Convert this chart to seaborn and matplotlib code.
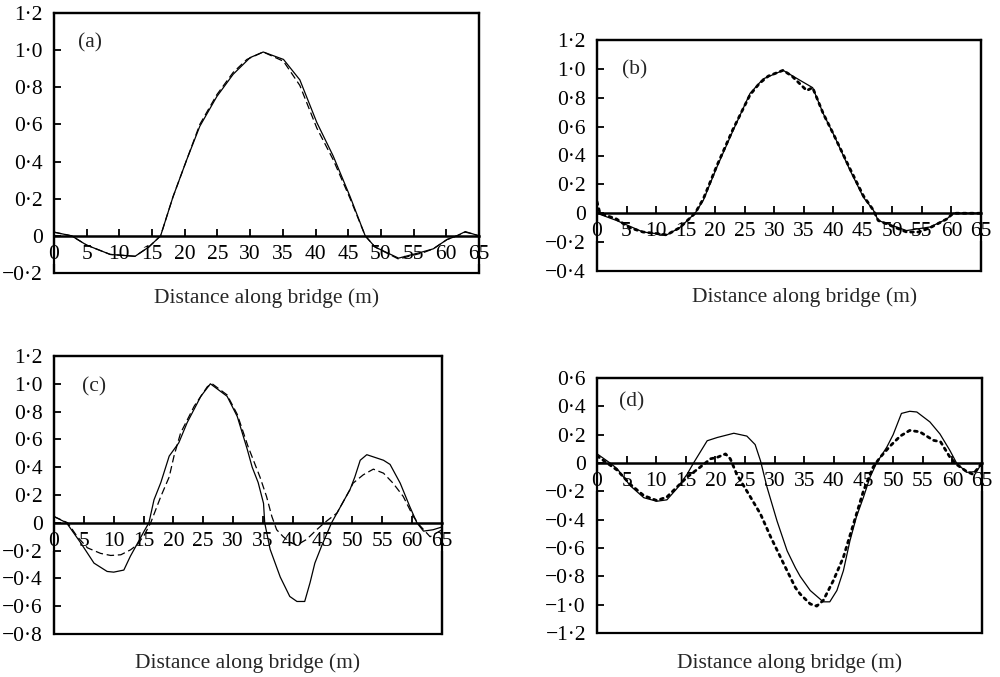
import matplotlib
matplotlib.use("Agg")
import matplotlib.pyplot as plt
from matplotlib.ticker import FuncFormatter
import seaborn as sns

# ---- Mode shapes along the bridge (distance in m, normalised amplitude) ----
# (a)
a_x_solid = [0, 2.7, 5, 8.6, 12.4, 14.5, 16.3, 18.2, 20.3, 22.3, 24.9, 27.4, 30, 32, 35.1,
             37.6, 40.2, 42.7, 45.3, 47.6, 49.1, 52.7, 56.5, 58, 60.1, 61.6, 62.9, 64.1, 65]
a_y_solid = [0.02, 0, -0.05, -0.10, -0.11, -0.06, 0, 0.21, 0.41, 0.59, 0.75, 0.87, 0.96, 0.99, 0.95,
             0.84, 0.61, 0.43, 0.21, 0, -0.06, -0.12, -0.085, -0.07, -0.02, 0, 0.023, 0.01, 0]
a_x_dash = [0, 2.7, 5, 8.6, 12.4, 14.5, 16.3, 18.2, 20.3, 22.3, 24.9, 27.4, 29.5, 32, 35.1,
            37.6, 40.2, 42.7, 45.3, 47.6, 49.1, 52.7, 56.5, 58, 60.1, 61.6, 62.9, 64.1, 65]
a_y_dash = [0.02, 0, -0.05, -0.10, -0.11, -0.06, 0, 0.21, 0.41, 0.60, 0.76, 0.88, 0.95, 0.99, 0.94,
            0.81, 0.58, 0.41, 0.20, 0, -0.06, -0.125, -0.09, -0.07, -0.02, 0, 0.02, 0.01, 0]

# (b)
b_x_solid = [0, 3.3, 7.8, 11.8, 14, 16.6, 18, 20.3, 23, 25.9, 28.1, 31.5, 34.4, 36.5, 38.3, 40,
             42.8, 45.1, 46.8, 47.6, 52.4, 56.4, 59.2, 60.3, 62.6, 65]
b_y_solid = [0.0, -0.05, -0.13, -0.15, -0.10, 0, 0.09, 0.32, 0.57, 0.83, 0.93, 0.99, 0.92, 0.87,
             0.69, 0.55, 0.30, 0.11, 0.02, -0.05, -0.12, -0.095, -0.04, 0, 0.0, 0.0]
b_x_dot = [0, 0.5, 3.3, 5.5, 7.8, 10, 11.8, 14, 16.6, 18, 20.3, 23, 25.9, 27.5, 29, 31.5, 33, 35.5,
           36.5, 38.3, 40, 42.8, 45.1, 46.8, 47.6, 52.4, 54.5, 56.4, 59.2, 60.3, 62.6, 65]
b_y_dot = [0.08, 0.0, -0.04, -0.10, -0.13, -0.14, -0.15, -0.10, 0, 0.10, 0.33, 0.58, 0.82, 0.90,
           0.95, 0.99, 0.95, 0.85, 0.87, 0.69, 0.55, 0.31, 0.12, 0.02, -0.05, -0.13, -0.13, -0.10,
           -0.04, 0, 0.0, 0.0]

# (c)
c_x_solid = [0, 2.1, 4.5, 6.7, 8.9, 10, 11.7, 12.8, 13.7, 15.1, 15.9, 16.75, 17.9, 19.3, 20.9,
             22.3, 24.6, 26.2, 29, 30.7, 32.4, 33.2, 34.2, 35.1, 35.3, 36.2, 37.9, 39.5, 40.7, 42,
             42.9, 43.7, 44.8, 46.5, 49.6, 50.4, 51.3, 52.4, 55.2, 56.3, 58, 59.6, 60.8, 61.9,
             63.5, 65]
c_y_solid = [0.045, 0, -0.146, -0.29, -0.35, -0.355, -0.34, -0.24, -0.17, -0.06, 0, 0.165, 0.29,
             0.48, 0.575, 0.72, 0.91, 1.0, 0.91, 0.765, 0.525, 0.40, 0.29, 0.14, 0, -0.19, -0.39,
             -0.53, -0.566, -0.566, -0.43, -0.29, -0.17, 0, 0.24, 0.33, 0.45, 0.49, 0.45, 0.42,
             0.285, 0.117, 0, -0.06, -0.05, -0.03]
c_x_dash = [0, 2.3, 3.9, 5.6, 7.8, 9.5, 11.2, 12.8, 13.9, 15.1, 16.2, 17.9, 19.3, 20.1, 21.2,
            23.5, 25.7, 26.5, 29, 30.7, 32.5, 34.5, 35.6, 36.5, 37.3, 38.4, 39.5, 40.7, 42.3, 44,
            45.3, 47.4, 49.6, 50.1, 51.8, 53.5, 55.2, 56.8, 58.5, 60.2, 61.3, 63, 65]
c_y_dash = [0.045, 0, -0.1, -0.18, -0.22, -0.235, -0.23, -0.195, -0.16, -0.09, 0, 0.19, 0.33,
            0.48, 0.645, 0.84, 0.98, 1.0, 0.92, 0.78, 0.55, 0.33, 0.19, 0.045, -0.05, -0.1, -0.14,
            -0.16, -0.12, -0.05, 0, 0.07, 0.24, 0.285, 0.345, 0.386, 0.357, 0.285, 0.19, 0.045,
            -0.02, -0.1, -0.05]

# (d)
d_x_solid = [0, 2.2, 3.4, 5.6, 7.9, 10.1, 11.8, 13.5, 15.2, 16.3, 18.6, 20.3, 23.1, 25.3, 26.7,
             27.6, 28.7, 30.4, 32.1, 33.5, 34.3, 36, 38.2, 39.3, 40.5, 41.6, 42.7, 43.8, 45, 46.1,
             47.2, 48.9, 50, 51.4, 52.8, 54, 56.2, 57.9, 59.6, 60.7, 62.4, 64.1, 65]
d_y_solid = [0.065, 0, -0.04, -0.16, -0.245, -0.27, -0.26, -0.18, -0.08, 0, 0.157, 0.18, 0.21,
             0.19, 0.13, 0.016, -0.17, -0.41, -0.62, -0.74, -0.80, -0.90, -0.98, -0.98, -0.90,
             -0.76, -0.55, -0.38, -0.24, -0.10, 0, 0.11, 0.20, 0.35, 0.365, 0.36, 0.29, 0.205,
             0.087, 0, -0.066, -0.06, 0]
d_x_dot = [0, 3.4, 5.6, 7.9, 10.1, 11.8, 13.5, 15.2, 17.4, 19.2, 20.3, 21.7, 22.5, 23.6, 25.9,
           27.6, 29.3, 31.5, 33.5, 34.3, 36, 37.1, 38.2, 39.9, 41.6, 43.3, 45, 46.6, 47.8, 49.5,
           51.2, 52.8, 54.5, 56.8, 58, 59.6, 60.7, 62.4, 63.5, 65]
d_y_dot = [0.05, -0.05, -0.15, -0.23, -0.265, -0.24, -0.17, -0.10, -0.03, 0.03, 0.04, 0.064,
           0.03, -0.08, -0.24, -0.36, -0.52, -0.71, -0.88, -0.925, -0.995, -1.01, -0.97, -0.83,
           -0.665, -0.43, -0.195, -0.03, 0.04, 0.12, 0.19, 0.23, 0.22, 0.16, 0.15, 0.04, -0.01,
           -0.06, -0.08, 0]

x_ticks = [0, 5, 10, 15, 20, 25, 30, 35, 40, 45, 50, 55, 60, 65]
panel_tags = ["(a)", "(b)", "(c)", "(d)"]
y_ranges = [(-0.2, 1.2), (-0.4, 1.2), (-0.8, 1.2), (-1.2, 0.6)]
x_title = "Distance along bridge (m)"

sns.set_style("white")
plt.rcParams["font.family"] = ["Liberation Serif", "DejaVu Serif"]

FS = 15.5
W, H = 1000, 677
fig = plt.figure(figsize=(W / 100, H / 100), dpi=100)

# axes boxes in pixels: left, top, right, bottom
boxes = [(54, 13, 479, 273), (597, 40, 981, 271), (54, 356, 442, 634), (597, 378, 982, 633)]
title_y = [298, 297, 663, 663]
tag_pos = [(0.085, 0.885), (0.097, 0.87), (0.104, 0.89), (0.091, 0.907)]

series = [
    [(a_x_solid, a_y_solid, "-"), (a_x_dash, a_y_dash, (0, (6, 3)))],
    [(b_x_solid, b_y_solid, "-"), (b_x_dot, b_y_dot, "dot")],
    [(c_x_solid, c_y_solid, "-"), (c_x_dash, c_y_dash, (0, (6, 3)))],
    [(d_x_solid, d_y_solid, "-"), (d_x_dot, d_y_dot, "dot")],
]


def fmt(v, _pos=None):
    if abs(v) < 1e-9:
        return "0"
    return f"{v:.1f}".replace(".", "\u00b7").replace("-", "\u2212")


for i, (l, t, r, b) in enumerate(boxes):
    ax = fig.add_axes([l / W, 1 - b / H, (r - l) / W, (b - t) / H])
    for xs, ys, ls in series[i]:
        if ls == "dot":
            sns.lineplot(x=xs, y=ys, ax=ax, color="black", lw=2.0,
                         linestyle=(0, (1.0, 1.6)), dash_capstyle="round")
        else:
            sns.lineplot(x=xs, y=ys, ax=ax, color="black", lw=0.9, linestyle=ls)

    ymin, ymax = y_ranges[i]
    ax.set_xlim(0, 65)
    ax.set_ylim(ymin, ymax)

    # frame drawn by the axes patch; bottom spine becomes the zero line
    ax.patch.set_edgecolor("black")
    ax.patch.set_linewidth(1.6)
    for s in ["left", "top", "right"]:
        ax.spines[s].set_color("black")
        ax.spines[s].set_linewidth(1.6)
    ax.spines["bottom"].set_position(("data", 0))
    ax.spines["bottom"].set_color("black")
    ax.spines["bottom"].set_linewidth(1.8)

    yt = [round(ymin + 0.2 * k, 1) for k in range(int(round((ymax - ymin) / 0.2)) + 1)]
    ax.set_yticks(yt)
    ax.yaxis.set_major_formatter(FuncFormatter(fmt))
    ax.set_xticks(x_ticks, [str(v) for v in x_ticks])
    ax.tick_params(axis="both", direction="in", length=5, width=1.3, colors="black",
                   labelsize=FS, left=True, bottom=True)
    ax.tick_params(axis="x", pad=6.5)
    ax.tick_params(axis="y", pad=8)
    for lbl in ax.get_xticklabels():
        lbl.set_bbox(dict(facecolor="white", edgecolor="none", pad=0.2))

    ax.set_xlabel("")
    ax.set_ylabel("")
    ax.text(tag_pos[i][0], tag_pos[i][1], panel_tags[i], transform=ax.transAxes,
            fontsize=FS, ha="center", va="center")
    fig.text((l + r) / 2 / W + (0.016 if i == 1 else 0), 1 - title_y[i] / H, x_title,
             fontsize=FS, ha="center", va="center")

fig.savefig("out.png", dpi=100, facecolor="white")
